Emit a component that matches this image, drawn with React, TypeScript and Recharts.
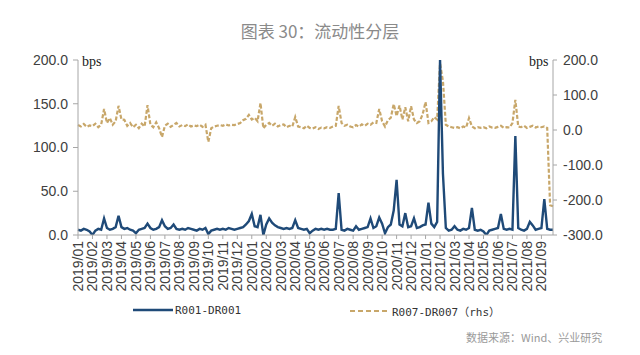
import React from "react";
import { LineChart, Line, XAxis, YAxis } from "recharts";

const months = [
  "2019/01", "2019/02", "2019/03", "2019/04", "2019/05", "2019/06",
  "2019/07", "2019/08", "2019/09", "2019/10", "2019/11", "2019/12",
  "2020/01", "2020/02", "2020/03", "2020/04", "2020/05", "2020/06",
  "2020/07", "2020/08", "2020/09", "2020/10", "2020/11", "2020/12",
  "2021/01", "2021/02", "2021/03", "2021/04", "2021/05", "2021/06",
  "2021/07", "2021/08", "2021/09",
];

// five readings per month, left axis (bps)
const r001 = [
  6, 5, 7, 6, 4,
  0, 5, 7, 6, 19,
  8, 6, 7, 9, 22,
  9, 7, 8, 6, 5,
  2, 6, 7, 8, 13,
  8, 6, 7, 9, 17,
  10, 7, 8, 12, 7,
  6, 7, 6, 8, 7,
  6, 5, 7, 6, 8,
  1, 5, 6, 7, 6,
  7, 6, 8, 7, 6,
  7, 8, 9, 12, 16,
  24, 10, 9, 23, 0,
  12, 19, 14, 11, 9,
  8, 7, 8, 7, 8,
  17, 8, 7, 6, 7,
  2, 5, 7, 6, 7,
  6, 7, 6, 6, 7,
  48, 6, 5, 7, 6,
  5, 10, 6, 7, 8,
  9, 19, 8, 10, 20,
  13, 2, 9, 12, 28,
  63, 12, 10, 25, 9,
  10, 19, 8, 9, 11,
  12, 37, 13, 9, 15,
  200, 70, 8, 5, 6,
  10, 6, 5, 7, 6,
  8, 31, 6, 5, 6,
  4, 0, 5, 6, 7,
  8, 24, 7, 6, 7,
  6, 113, 8, 6, 5,
  7, 15, 11, 6, 7,
  8, 41, 7, 6, 6,
];

// five readings per month, right axis (bps)
const r007 = [
  14, 10, 17, 9, 13,
  11, 18, 8, 15, 60,
  20, 34, 15, 25, 69,
  30, 29, 12, 20, 8,
  15, 5, 18, 10, 71,
  15, 8, 22, 5, -20,
  12, 18, 9, 15, 20,
  10, 14, 11, 16, 10,
  13, 11, 15, 9, 15,
  -34, 5, 10, 12, 14,
  12, 16, 13, 15, 14,
  17, 20, 28, 32, 43,
  30, 35, 25, 77, 5,
  15, 20, 12, 18, 10,
  14, 16, 8, 12, 10,
  37, 10, 8, 5, 12,
  6, 4, 8, 3, 7,
  5, 8, 6, 10, 12,
  69, 20, 12, 15, 10,
  8, 14, 10, 16, 12,
  18, 15, 22, 20, 60,
  25, 10, 28, 35, 74,
  40, 70, 30, 65, 25,
  68, 30, 20, 25, 45,
  80, 20, 25, 37, 30,
  190, 140, 15, 10, 8,
  6, 8, 5, 10, 7,
  34, 10, 5, 8, 6,
  8, 5, 10, 7, 6,
  9, 12, 6, 8, 7,
  20, 86, 10, 8, 12,
  6, 9, 12, 7, 10,
  8, 10, 6, -215, -218,
];

const leftTicks = [0, 50, 100, 150, 200];
const rightTicks = [-300, -200, -100, 0, 100, 200];

const data = months.flatMap((m, i) =>
  [0, 1, 2, 3, 4].map((j) => ({
    key: `${m}-${j}`,
    r001: r001[i * 5 + j],
    r007: r007[i * 5 + j],
  }))
);

const BLUE = "#1f4a78";
const TAN = "#c8a76a";
const AXIS = "#a6a6a6";
const TXT = "#404040";
const SANS = "'Liberation Sans', Arial, sans-serif";

const MonthTick = (props: any) => {
  const { x, y, payload } = props;
  return (
    <g transform={`translate(${x},${y})`}>
      <text
        transform="rotate(-90)"
        textAnchor="end"
        dy={5}
        fontSize={14}
        fill={TXT}
        fontFamily={SANS}
      >
        {String(payload.value).slice(0, 7)}
      </text>
    </g>
  );
};

export default function App() {
  return (
    <div
      style={{
        position: "absolute",
        left: 0,
        top: 0,
        width: 640,
        height: 355,
        background: "#fff",
        overflow: "hidden",
      }}
    >
      <div
        style={{
          position: "absolute",
          top: 18,
          width: 640,
          textAlign: "center",
          fontFamily: "'Noto Sans CJK SC', sans-serif",
          fontSize: 17,
          color: "#8a8a8a",
        }}
      >
        图表 30：流动性分层
      </div>

      <LineChart
        width={640}
        height={300}
        data={data}
        margin={{ top: 60, right: 0, left: 0, bottom: 0 }}
      >
        <XAxis
          dataKey="key"
          ticks={months.map((m) => `${m}-0`)}
          interval={0}
          tick={<MonthTick />}
          height={65}
          tickSize={4}
          tickMargin={2}
          axisLine={{ stroke: AXIS }}
          tickLine={{ stroke: AXIS }}
        />
        <YAxis
          yAxisId="left"
          orientation="left"
          width={78}
          domain={[0, 200]}
          ticks={leftTicks}
          tickFormatter={(v: number) => v.toFixed(1)}
          tick={{ fontSize: 14, fill: TXT, fontFamily: SANS }}
          tickSize={5}
          tickMargin={5}
          axisLine={{ stroke: AXIS }}
          tickLine={{ stroke: AXIS }}
          allowDataOverflow
        />
        <YAxis
          yAxisId="right"
          orientation="right"
          width={87}
          domain={[-300, 200]}
          ticks={rightTicks}
          tickFormatter={(v: number) => v.toFixed(1)}
          tick={{ fontSize: 14, fill: TXT, fontFamily: SANS }}
          tickSize={4}
          tickMargin={6}
          axisLine={{ stroke: AXIS }}
          tickLine={{ stroke: AXIS }}
        />
        <Line
          yAxisId="right"
          type="linear"
          dataKey="r007"
          stroke={TAN}
          strokeWidth={2.2}
          strokeDasharray="4 2"
          dot={false}
          isAnimationActive={false}
        />
        <Line
          yAxisId="left"
          type="linear"
          dataKey="r001"
          stroke={BLUE}
          strokeWidth={2.4}
          dot={false}
          isAnimationActive={false}
        />
      </LineChart>

      <div
        style={{
          position: "absolute",
          left: 82,
          top: 54,
          fontFamily: "'Liberation Serif', serif",
          fontSize: 14,
          color: "#222",
        }}
      >
        bps
      </div>
      <div
        style={{
          position: "absolute",
          left: 529,
          top: 54,
          fontFamily: "'Liberation Serif', serif",
          fontSize: 14,
          color: "#222",
        }}
      >
        bps
      </div>

      <div
        style={{
          position: "absolute",
          left: 133,
          top: 303,
          display: "flex",
          alignItems: "center",
          fontFamily: "'DejaVu Sans Mono', 'Noto Sans CJK SC', monospace",
          fontSize: 11,
          color: "#333",
        }}
      >
        <svg width={40} height={14}>
          <line x1={0} y1={7} x2={40} y2={7} stroke={BLUE} strokeWidth={2.5} />
        </svg>
        <span style={{ marginLeft: 2 }}>R001-DR001</span>
      </div>
      <div
        style={{
          position: "absolute",
          left: 350,
          top: 303,
          display: "flex",
          alignItems: "center",
          fontFamily: "'DejaVu Sans Mono', 'Noto Sans CJK SC', monospace",
          fontSize: 11,
          color: "#333",
        }}
      >
        <svg width={40} height={14}>
          <line
            x1={0}
            y1={7}
            x2={40}
            y2={7}
            stroke={TAN}
            strokeWidth={2}
            strokeDasharray="5 3"
          />
        </svg>
        <span style={{ marginLeft: 2 }}>R007-DR007（rhs）</span>
      </div>

      <div
        style={{
          position: "absolute",
          left: 466,
          top: 329,
          fontFamily: "'Noto Sans CJK SC', sans-serif",
          fontSize: 11,
          color: "#9a9a9a",
        }}
      >
        数据来源：Wind、兴业研究
      </div>
    </div>
  );
}
